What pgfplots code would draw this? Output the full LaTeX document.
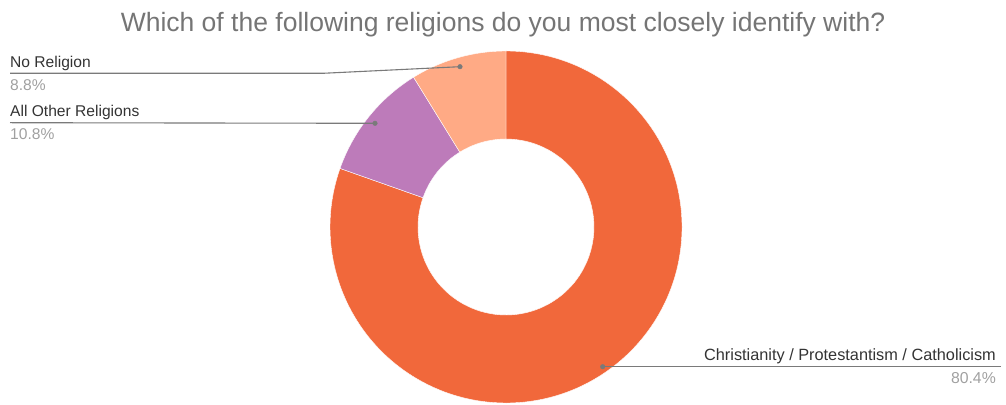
\documentclass[border=0pt]{standalone}
\usepackage{pgfplots}
\pgfplotsset{compat=1.18}
\usepackage{fontspec}
\setmainfont{Liberation Sans}
\definecolor{cOrange}{HTML}{F1683B}
\definecolor{cPurple}{HTML}{BD7BBA}
\definecolor{cPeach}{HTML}{FFAA85}
\definecolor{cLine}{HTML}{7A7A7A}
\definecolor{cLab}{HTML}{333333}
\definecolor{cPct}{HTML}{A0A0A0}
\definecolor{cTitle}{HTML}{757575}
% data (percent)
\def\vA{80.4}% Christianity / Protestantism / Catholicism
\def\vB{10.8}% All Other Religions
\def\vC{8.8}%  No Religion
\def\cx{506}\def\cy{177}\def\R{176}\def\r{88}
\pgfmathsetmacro\aA{90}
\pgfmathsetmacro\aB{90-3.6*\vA}
\pgfmathsetmacro\aC{\aB-3.6*\vB}
\pgfmathsetmacro\aD{\aC-3.6*\vC}
% outer start / inner end points
\pgfmathsetmacro\oAx{\cx+\R*cos(\aA)}\pgfmathsetmacro\oAy{\cy+\R*sin(\aA)}
\pgfmathsetmacro\oBx{\cx+\R*cos(\aB)}\pgfmathsetmacro\oBy{\cy+\R*sin(\aB)}
\pgfmathsetmacro\oCx{\cx+\R*cos(\aC)}\pgfmathsetmacro\oCy{\cy+\R*sin(\aC)}
\pgfmathsetmacro\iBx{\cx+\r*cos(\aB)}\pgfmathsetmacro\iBy{\cy+\r*sin(\aB)}
\pgfmathsetmacro\iCx{\cx+\r*cos(\aC)}\pgfmathsetmacro\iCy{\cy+\r*sin(\aC)}
\pgfmathsetmacro\iDx{\cx+\r*cos(\aD)}\pgfmathsetmacro\iDy{\cy+\r*sin(\aD)}
\begin{document}
\begin{tikzpicture}
\begin{axis}[
  at={(0,0)}, anchor=south west,
  width=1006bp, height=404bp, scale only axis,
  xmin=0, xmax=1006, ymin=0, ymax=404,
  hide axis, clip=false]
\path (axis cs:0,0) rectangle (axis cs:1006,404);
\fill[cOrange, draw=white, line width=0.4bp] (axis cs:\oAx,\oAy) arc[start angle=\aA, end angle=\aB, radius=\R] -- (axis cs:\iBx,\iBy) arc[start angle=\aB, end angle=\aA, radius=\r] -- cycle;
\fill[cPurple, draw=white, line width=0.4bp] (axis cs:\oBx,\oBy) arc[start angle=\aB, end angle=\aC, radius=\R] -- (axis cs:\iCx,\iCy) arc[start angle=\aC, end angle=\aB, radius=\r] -- cycle;
\fill[cPeach, draw=white, line width=0.4bp] (axis cs:\oCx,\oCy) arc[start angle=\aC, end angle=\aD, radius=\R] -- (axis cs:\iDx,\iDy) arc[start angle=\aD, end angle=\aC, radius=\r] -- cycle;
% leader lines
\addplot[cLine, line width=1.1bp, mark=none] coordinates {(10,330.7) (323,330.7) (460,337.3)};
\addplot[cLine, line width=1.1bp, mark=none] coordinates {(10,281.3) (375,280.7)};
\addplot[cLine, line width=1.1bp, mark=none] coordinates {(602.7,37.3) (1001,37.3)};
\addplot[cLine, only marks, mark=*, mark size=2.3bp] coordinates {(460,337.3) (375,280.7) (602.7,37.3)};
% texts
\node[anchor=base, text=cTitle, font=\fontsize{26.5bp}{30bp}\selectfont, inner sep=0pt] at (axis cs:503,372.3) {Which of the following religions do you most closely identify with?};
\node[anchor=base west, text=cLab, font=\fontsize{15.6bp}{18bp}\selectfont, inner sep=0pt] at (axis cs:10,336) {No Religion};
\node[anchor=base west, text=cPct, font=\fontsize{15.6bp}{18bp}\selectfont, inner sep=0pt] at (axis cs:10,313) {8.8\%};
\node[anchor=base west, text=cLab, font=\fontsize{15.6bp}{18bp}\selectfont, inner sep=0pt] at (axis cs:10,287.3) {All Other Religions};
\node[anchor=base west, text=cPct, font=\fontsize{15.6bp}{18bp}\selectfont, inner sep=0pt] at (axis cs:10,264) {10.8\%};
\node[anchor=base east, text=cLab, font=\fontsize{16.3bp}{18bp}\selectfont, inner sep=0pt] at (axis cs:996,43.3) {Christianity / Protestantism / Catholicism};
\node[anchor=base east, text=cPct, font=\fontsize{15.8bp}{18bp}\selectfont, inner sep=0pt] at (axis cs:996,20.7) {80.4\%};
\end{axis}
\end{tikzpicture}
\end{document}
